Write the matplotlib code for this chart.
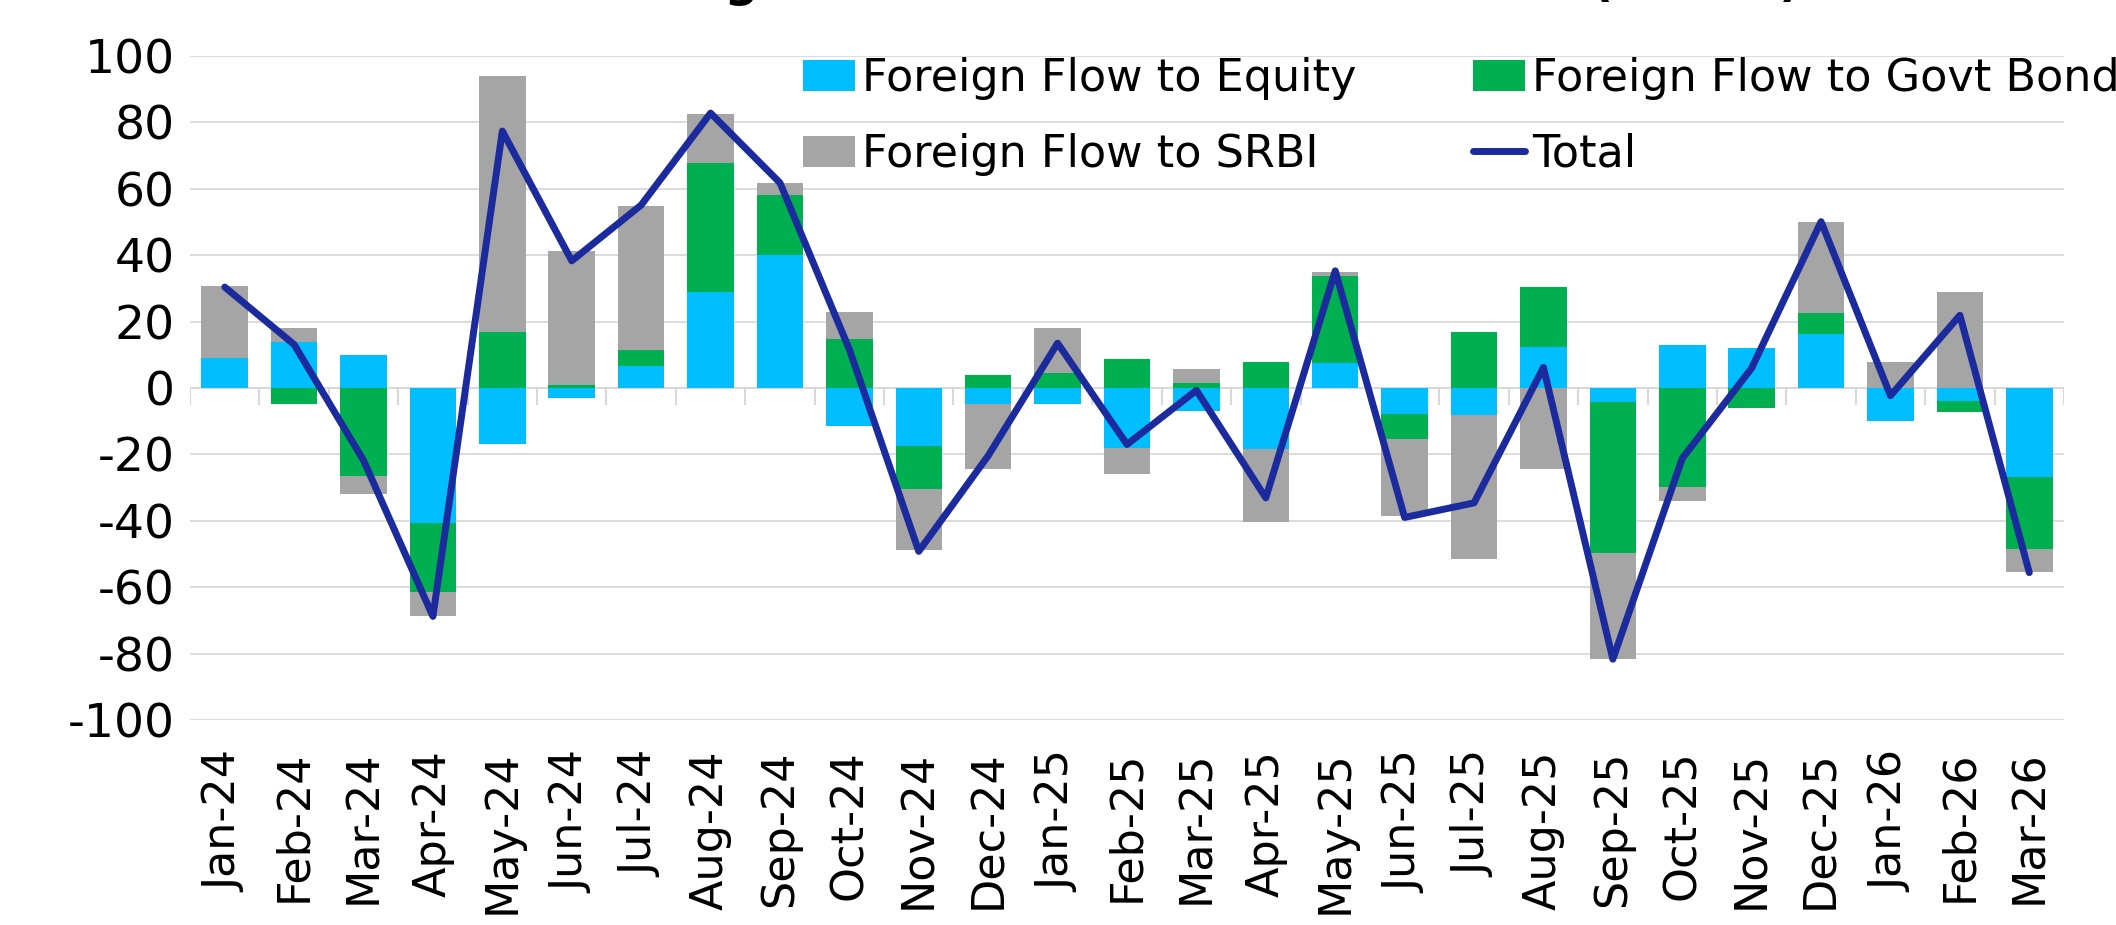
import numpy as np
import matplotlib.pyplot as plt

plt.rcParams['font.family'] = ['DejaVu Sans']
plt.rcParams['axes.unicode_minus'] = False

months = ["Jan-24", "Feb-24", "Mar-24", "Apr-24", "May-24", "Jun-24", "Jul-24", "Aug-24",
          "Sep-24", "Oct-24", "Nov-24", "Dec-24", "Jan-25", "Feb-25", "Mar-25", "Apr-25",
          "May-25", "Jun-25", "Jul-25", "Aug-25", "Sep-25", "Oct-25", "Nov-25", "Dec-25",
          "Jan-26", "Feb-26", "Mar-26"]

equity = [9.0, 14.0, 9.8, -40.6, -16.8, -3.0, 6.6, 28.8, 40.0, -11.4, -17.4, -4.9, -4.7, -18.2,
          -6.8, -18.3, 7.4, -7.9, -8.2, 12.3, -4.2, 12.9, 12.0, 16.2, -9.9, -3.8, -26.8]
govt_bond = [0.0, -4.8, -26.5, -20.9, 16.8, 0.8, 4.7, 39.0, 18.0, 14.7, -13.0, 4.0, 4.5, 8.7,
             1.5, 7.7, 26.3, -7.5, 16.9, 18.1, -45.6, -29.9, -6.0, 6.4, 0.0, -3.3, -21.8]
srbi = [21.7, 4.0, -5.4, -7.1, 77.3, 40.5, 43.6, 14.8, 3.8, 8.1, -18.5, -19.6, 13.5, -7.6,
        4.3, -22.1, 1.3, -23.3, -43.4, -24.3, -31.7, -4.1, 0.0, 27.3, 7.7, 28.8, -6.9]
total = [30.4, 13.1, -21.8, -68.8, 77.4, 38.3, 55.1, 82.8, 61.8, 11.6, -49.2, -20.4, 13.5, -17.0,
         -0.7, -33.1, 35.3, -39.0, -34.6, 6.2, -81.7, -21.2, 6.0, 50.1, -2.3, 21.9, -55.6]

fs = 32
W, H = 2116, 925
fig = plt.figure(figsize=(W / 100, H / 100), dpi=100)
ax = fig.add_axes([190 / W, 1 - 720 / H, (2064 - 190) / W, (720 - 56) / H])

x = np.arange(len(months))
pos = np.zeros(len(months))
neg = np.zeros(len(months))
series = [("Foreign Flow to Equity", equity, "#00BEFF"),
          ("Foreign Flow to Govt Bond", govt_bond, "#00B050"),
          ("Foreign Flow to SRBI", srbi, "#A5A5A5")]
handles = {}
for name, vals, col in series:
    v = np.array(vals)
    bottom = np.where(v >= 0, pos, neg)
    handles[name] = ax.bar(x, v, 0.67, bottom=bottom, color=col, zorder=2, label=name)
    pos += np.where(v >= 0, v, 0)
    neg += np.where(v < 0, v, 0)

line, = ax.plot(x, total, color="#1B2A9C", lw=5, solid_joinstyle="round",
                solid_capstyle="round", zorder=3, label="Total")

ax.set_ylim(-100, 100)
ax.set_yticks(range(-100, 101, 20))
ax.set_xlim(-0.5, len(months) - 0.5)
ax.grid(axis="y", color="#D9D9D9", lw=1.3)
ax.set_axisbelow(True)
for s in ax.spines.values():
    s.set_visible(False)
ax.axhline(0, color="#D9D9D9", lw=1.5, zorder=1)
ax.vlines(np.arange(len(months) + 1) - 0.5, -5, 0, color="#D9D9D9", lw=1.5, zorder=1)

ax.set_xticks(x)
ax.set_xticklabels(months, rotation=90, fontsize=fs)
ax.tick_params(axis="x", length=0, pad=22)
ax.tick_params(axis="y", length=0, pad=11, labelsize=34)

leg_kw = dict(loc="upper left", bbox_transform=fig.transFigure, frameon=False, fontsize=fs,
              handlelength=1.17, handleheight=0.7, handletextpad=0.15, borderpad=0,
              borderaxespad=0, labelspacing=0.74)
leg1 = ax.legend([handles["Foreign Flow to Equity"], handles["Foreign Flow to SRBI"]],
                 ["Foreign Flow to Equity", "Foreign Flow to SRBI"],
                 bbox_to_anchor=(803 / W, 1 - 57 / H), **leg_kw)
ax.add_artist(leg1)
ax.legend([handles["Foreign Flow to Govt Bond"], line],
          ["Foreign Flow to Govt Bond", "Total"],
          bbox_to_anchor=(1473 / W, 1 - 57 / H), **leg_kw)

# title sits mostly above the canvas, only descenders show
fig.text(590 / W, 1 + 4 / H, "Foreign Flows to Indonesian Markets (IDR tn)",
         fontsize=34, fontweight="bold", ha="left", va="baseline")

fig.savefig("out.png", dpi=100)
